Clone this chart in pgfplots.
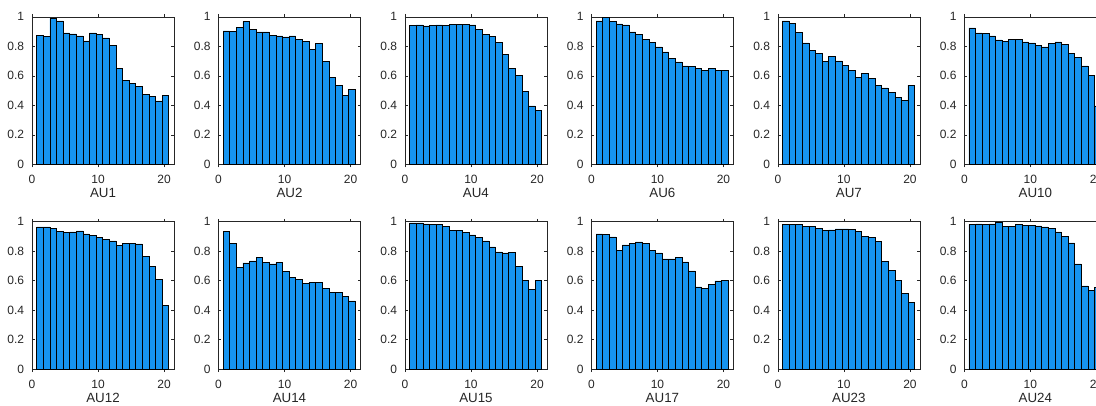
\documentclass[border=0pt]{standalone}
\usepackage{pgfplots}
\pgfplotsset{compat=1.18}
\usepackage{fontspec}
\setmainfont{Liberation Sans}
\definecolor{barblue}{RGB}{22,148,240}
\definecolor{axgray}{RGB}{38,38,38}
\pgfplotsset{
  aupanel/.style={
    scale only axis, width=106.5pt, height=110.6pt,
    anchor=south west,
    xmin=0, xmax=21.5, ymin=0, ymax=1,
    xtick={0,10,20}, ytick={0,0.2,0.4,0.6,0.8,1},
    tick align=inside, major tick length=2.2pt,
    axis line style={axgray, line width=0.5pt},
    every tick/.style={axgray, line width=0.5pt},
    /pgf/number format/assume math mode=true,
    tick label style={font=\fontsize{9}{10}\selectfont, text=axgray},
    xticklabel style={anchor=center, yshift=-9pt},
    yticklabel style={xshift=-2.4pt},
    xlabel style={font=\fontsize{10}{11}\selectfont, text=axgray, anchor=center, at={(axis description cs:0.5,0)}, yshift=-21.3pt},
    ybar, bar width=1, bar shift=0pt,
    cycle list={{fill=barblue, draw=black, line width=0.6pt}},
  }
}
\begin{document}
\begin{tikzpicture}
\path[use as bounding box] (0,0) rectangle (822pt,303.75pt);
\begin{scope}[overlay]
\clip (0,0) rectangle (822pt,303.75pt);
% Row 1
\begin{axis}[aupanel, at={(24pt,180.5pt)}, xlabel={AU1}]
\addplot coordinates {(1.2,0.875) (2.2,0.866) (3.2,0.989) (4.2,0.973) (5.2,0.891) (6.2,0.884) (7.2,0.871) (8.2,0.837) (9.2,0.891) (10.2,0.880) (11.2,0.857) (12.2,0.805) (13.2,0.653) (14.2,0.571) (15.2,0.549) (16.2,0.531) (17.2,0.474) (18.2,0.463) (19.2,0.431) (20.2,0.467)};
\end{axis}
\begin{axis}[aupanel, at={(163.85pt,180.5pt)}, xlabel={AU2}]
\addplot coordinates {(1.2,0.905) (2.2,0.900) (3.2,0.927) (4.2,0.968) (5.2,0.916) (6.2,0.898) (7.2,0.898) (8.2,0.875) (9.2,0.871) (10.2,0.864) (11.2,0.871) (12.2,0.848) (13.2,0.834) (14.2,0.782) (15.2,0.819) (16.2,0.698) (17.2,0.590) (18.2,0.537) (19.2,0.469) (20.2,0.510)};
\end{axis}
\begin{axis}[aupanel, at={(303.7pt,180.5pt)}, xlabel={AU4}]
\addplot coordinates {(1.2,0.943) (2.2,0.946) (3.2,0.939) (4.2,0.941) (5.2,0.946) (6.2,0.941) (7.2,0.950) (8.2,0.950) (9.2,0.948) (10.2,0.946) (11.2,0.916) (12.2,0.882) (13.2,0.868) (14.2,0.825) (15.2,0.748) (16.2,0.653) (17.2,0.603) (18.2,0.497) (19.2,0.397) (20.2,0.365)};
\end{axis}
\begin{axis}[aupanel, at={(443.55pt,180.5pt)}, xlabel={AU6}]
\addplot coordinates {(1.2,0.973) (2.2,0.995) (3.2,0.971) (4.2,0.952) (5.2,0.946) (6.2,0.898) (7.2,0.880) (8.2,0.846) (9.2,0.828) (10.2,0.796) (11.2,0.762) (12.2,0.721) (13.2,0.694) (14.2,0.667) (15.2,0.662) (16.2,0.653) (17.2,0.637) (18.2,0.649) (19.2,0.637) (20.2,0.639)};
\end{axis}
\begin{axis}[aupanel, at={(583.4pt,180.5pt)}, xlabel={AU7}]
\addplot coordinates {(1.2,0.973) (2.2,0.957) (3.2,0.896) (4.2,0.823) (5.2,0.773) (6.2,0.751) (7.2,0.698) (8.2,0.732) (9.2,0.701) (10.2,0.671) (11.2,0.639) (12.2,0.590) (13.2,0.619) (14.2,0.583) (15.2,0.537) (16.2,0.519) (17.2,0.488) (18.2,0.454) (19.2,0.433) (20.2,0.537)};
\end{axis}
\begin{axis}[aupanel, at={(723.25pt,180.5pt)}, xlabel={AU10}]
\addplot coordinates {(1.2,0.925) (2.2,0.891) (3.2,0.889) (4.2,0.871) (5.2,0.844) (6.2,0.834) (7.2,0.846) (8.2,0.848) (9.2,0.830) (10.2,0.823) (11.2,0.805) (12.2,0.796) (13.2,0.819) (14.2,0.830) (15.2,0.812) (16.2,0.751) (17.2,0.723) (18.2,0.667) (19.2,0.605) (20.2,0.397)};
\end{axis}
% Row 2
\begin{axis}[aupanel, at={(24pt,26.8pt)}, xlabel={AU12}]
\addplot coordinates {(1.2,0.966) (2.2,0.966) (3.2,0.955) (4.2,0.934) (5.2,0.930) (6.2,0.932) (7.2,0.939) (8.2,0.918) (9.2,0.909) (10.2,0.896) (11.2,0.882) (12.2,0.871) (13.2,0.839) (14.2,0.853) (15.2,0.855) (16.2,0.850) (17.2,0.766) (18.2,0.698) (19.2,0.608) (20.2,0.433)};
\end{axis}
\begin{axis}[aupanel, at={(163.85pt,26.8pt)}, xlabel={AU14}]
\addplot coordinates {(1.2,0.937) (2.2,0.855) (3.2,0.689) (4.2,0.721) (5.2,0.735) (6.2,0.760) (7.2,0.723) (8.2,0.714) (9.2,0.723) (10.2,0.662) (11.2,0.624) (12.2,0.608) (13.2,0.583) (14.2,0.590) (15.2,0.590) (16.2,0.549) (17.2,0.522) (18.2,0.524) (19.2,0.494) (20.2,0.463)};
\end{axis}
\begin{axis}[aupanel, at={(303.7pt,26.8pt)}, xlabel={AU15}]
\addplot coordinates {(1.2,0.993) (2.2,0.993) (3.2,0.986) (4.2,0.984) (5.2,0.980) (6.2,0.971) (7.2,0.943) (8.2,0.941) (9.2,0.927) (10.2,0.912) (11.2,0.896) (12.2,0.871) (13.2,0.830) (14.2,0.796) (15.2,0.789) (16.2,0.794) (17.2,0.698) (18.2,0.603) (19.2,0.544) (20.2,0.603)};
\end{axis}
\begin{axis}[aupanel, at={(443.55pt,26.8pt)}, xlabel={AU17}]
\addplot coordinates {(1.2,0.918) (2.2,0.914) (3.2,0.898) (4.2,0.805) (5.2,0.844) (6.2,0.855) (7.2,0.864) (8.2,0.853) (9.2,0.807) (10.2,0.789) (11.2,0.748) (12.2,0.748) (13.2,0.757) (14.2,0.728) (15.2,0.667) (16.2,0.558) (17.2,0.546) (18.2,0.576) (19.2,0.599) (20.2,0.605)};
\end{axis}
\begin{axis}[aupanel, at={(583.4pt,26.8pt)}, xlabel={AU23}]
\addplot coordinates {(1.2,0.984) (2.2,0.980) (3.2,0.980) (4.2,0.968) (5.2,0.971) (6.2,0.957) (7.2,0.941) (8.2,0.946) (9.2,0.952) (10.2,0.952) (11.2,0.948) (12.2,0.937) (13.2,0.902) (14.2,0.893) (15.2,0.866) (16.2,0.730) (17.2,0.673) (18.2,0.603) (19.2,0.515) (20.2,0.454)};
\end{axis}
\begin{axis}[aupanel, at={(723.25pt,26.8pt)}, xlabel={AU24}]
\addplot coordinates {(1.2,0.982) (2.2,0.986) (3.2,0.980) (4.2,0.986) (5.2,0.995) (6.2,0.971) (7.2,0.971) (8.2,0.980) (9.2,0.977) (10.2,0.977) (11.2,0.973) (12.2,0.966) (13.2,0.957) (14.2,0.932) (15.2,0.902) (16.2,0.857) (17.2,0.714) (18.2,0.565) (19.2,0.537) (20.2,0.556)};
\end{axis}
\end{scope}
\end{tikzpicture}
\end{document}
